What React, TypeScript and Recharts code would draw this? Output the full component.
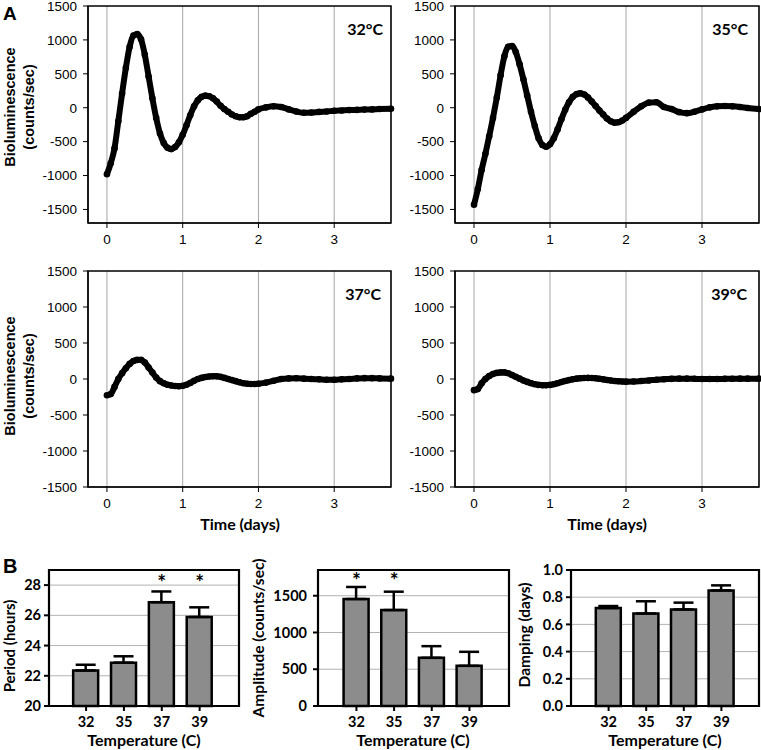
import React from "react"
import {
  LineChart,
  Line,
  BarChart,
  Bar,
  ErrorBar,
  XAxis,
  YAxis,
  CartesianGrid,
  ReferenceArea,
  ReferenceDot,
} from "recharts"

const ARIAL = '"Liberation Sans", Arial, sans-serif'
const CALIBRI = 'Lato, "Noto Sans", sans-serif'

// time in days
const times = [
  0, 0.05, 0.1, 0.15, 0.2, 0.25, 0.3, 0.35, 0.4, 0.45, 0.5, 0.55, 0.6, 0.65, 0.7, 0.75, 0.8, 0.85, 0.9, 0.95,
  1, 1.05, 1.1, 1.15, 1.2, 1.25, 1.3, 1.35, 1.4, 1.45, 1.5, 1.55, 1.6, 1.65, 1.7, 1.75, 1.8, 1.85, 1.9, 1.95, 2,
  2.1, 2.2, 2.3, 2.4, 2.5, 2.6, 2.7, 2.8, 2.9, 3, 3.1, 3.2, 3.3, 3.4, 3.5, 3.6, 3.75,
]

// detrended bioluminescence (counts/sec)
const lum32 = [
  -980, -820, -600, -200, 210, 590, 900, 1065, 1085, 1010, 780, 460, 140, -150, -380, -520, -590, -610, -580, -510,
  -400, -260, -110, 20, 110, 160, 178, 170, 140, 90, 30, -20, -60, -100, -125, -140, -140, -125, -90, -60, -25,
  5, 20, 10, -25, -55, -75, -72, -62, -55, -45, -40, -35, -32, -28, -25, -20, -15,
]
const lum35 = [
  -1430, -1200, -920, -680, -420, -150, 150, 480, 760, 900, 910, 820, 640, 420, 180, -60, -270, -450, -550, -575,
  -540, -450, -320, -170, -30, 80, 160, 200, 212, 195, 150, 90, 25, -40, -100, -160, -200, -220, -215, -190, -150,
  -60, 20, 75, 80, 10, -20, -65, -80, -60, -25, 5, 20, 25, 20, 10, -5, -20,
]
const lum37 = [
  -225, -210, -110, 0, 80, 150, 210, 250, 265, 265, 230, 160, 90, 20, -30, -60, -80, -90, -98, -100,
  -95, -80, -55, -25, 0, 15, 28, 35, 38, 37, 30, 15, 0, -15, -30, -45, -58, -65, -70, -70, -65,
  -50, -25, 0, 8, 10, 5, 0, -5, -10, -10, -5, 0, 8, 12, 12, 8, 5,
]
const lum39 = [
  -155, -140, -60, 0, 40, 70, 85, 92, 92, 80, 55, 30, 5, -20, -40, -58, -72, -82, -87, -87,
  -82, -72, -58, -42, -28, -15, -3, 5, 10, 14, 15, 14, 10, 3, -5, -13, -20, -27, -32, -35, -37,
  -35, -28, -20, -10, -3, 2, 5, 5, 3, 0, 0, 0, 2, 3, 5, 5, 5,
]

const lumTicks = [-1500, -1000, -500, 0, 500, 1000, 1500]
const dayTicks = [0, 1, 2, 3]

const temps = ["32", "35", "37", "39"]
const period = [22.35, 22.87, 26.87, 25.89]
const periodErr = [0.38, 0.42, 0.71, 0.64]
const amplitude = [1455, 1305, 655, 546]
const amplitudeErr = [164, 250, 159, 191]
const damping = [0.72, 0.68, 0.71, 0.85]
const dampingErr = [0.015, 0.09, 0.05, 0.037]
const periodStars = ["37", "39"]
const amplitudeStars = ["32", "35"]

const periodTicks = [20, 22, 24, 26, 28]
const amplitudeTicks = [0, 500, 1000, 1500]
const dampingTicks = [0, 0.2, 0.4, 0.6, 0.8, 1.0]

const traceData = times.map((t, i) => ({
  t,
  v32: lum32[i],
  v35: lum35[i],
  v37: lum37[i],
  v39: lum39[i],
}))

// bars sit on a numeric slot axis (0..3) so the frame can span the whole plot
const barData = temps.map((temp, i) => ({
  slot: i,
  temp,
  period: period[i],
  periodErr: [0, periodErr[i]],
  amplitude: amplitude[i],
  amplitudeErr: [0, amplitudeErr[i]],
  damping: damping[i],
  dampingErr: [0, dampingErr[i]],
}))

interface TraceProps {
  dataKey: string
  left: number
  top: number
  width: number
  right: number
  yMin: number
  xAxisHeight: number
}

function TracePanel({ dataKey, left, top, width, right, yMin, xAxisHeight }: TraceProps) {
  const tick = { fill: "#000", fontSize: 13.5, fontFamily: ARIAL }
  return (
    <div style={{ position: "absolute", left, top }}>
      <LineChart width={width} height={250} data={traceData} margin={{ top: 6, right, left: 0, bottom: 0 }}>
        <CartesianGrid horizontal={false} stroke="#a6a6a6" />
        <XAxis
          type="number"
          dataKey="t"
          domain={[-0.25, 3.75]}
          ticks={dayTicks}
          interval={0}
          tick={tick}
          tickSize={5}
          tickMargin={6}
          stroke="#000"
          height={xAxisHeight}
        />
        <YAxis
          domain={[yMin, 1500]}
          ticks={lumTicks}
          interval={0}
          tick={tick}
          tickSize={5}
          tickMargin={6}
          stroke="#000"
          width={88}
        />
        <ReferenceArea y1={yMin} y2={1500} fill="none" stroke="#000" strokeWidth={1.5} />
        <Line
          type="monotone"
          dataKey={dataKey}
          stroke="#000"
          strokeWidth={6}
          dot={{ r: 3.3, fill: "#000", stroke: "none" }}
          isAnimationActive={false}
        />
      </LineChart>
    </div>
  )
}

interface BarProps {
  left: number
  width: number
  right: number
  yWidth: number
  xDomain: [number, number]
  dataKey: string
  errKey: string
  domain: [number, number]
  ticks: number[]
  fmt?: (v: number) => string
  stars: string[]
  starY: number
  yTickMargin: number
}

function BarPanel(p: BarProps) {
  const tick = { fill: "#000", fontSize: 14.5, fontWeight: 700, fontFamily: CALIBRI }
  return (
    <div style={{ position: "absolute", left: p.left, top: 560 }}>
      <BarChart width={p.width} height={190} data={barData} margin={{ top: 10, right: p.right, left: 0, bottom: 0 }}>
        <CartesianGrid vertical={false} stroke="#b3b3b3" />
        <XAxis
          type="number"
          dataKey="slot"
          domain={p.xDomain}
          ticks={[0, 1, 2, 3]}
          interval={0}
          tickFormatter={(v: number) => temps[v] ?? ""}
          tick={tick}
          tickSize={5}
          tickMargin={6}
          stroke="#000"
          strokeWidth={2}
          height={44}
        />
        <YAxis
          domain={p.domain}
          ticks={p.ticks}
          interval={0}
          tickFormatter={p.fmt}
          tick={tick}
          tickSize={5}
          tickMargin={p.yTickMargin}
          stroke="#000"
          strokeWidth={2}
          width={p.yWidth}
        />
        <ReferenceArea y1={p.domain[0]} y2={p.domain[1]} fill="none" stroke="#000" strokeWidth={2.2} />
        <Bar dataKey={p.dataKey} fill="#8c8c8c" stroke="#000" strokeWidth={2.5} barSize={25} isAnimationActive={false}>
          <ErrorBar dataKey={p.errKey} width={10} stroke="#000" strokeWidth={2.5} />
        </Bar>
        {p.stars.map((s) => (
          <ReferenceDot
            key={s}
            x={temps.indexOf(s)}
            y={p.starY}
            r={1}
            fill="none"
            stroke="none"
            label={{ value: "*", position: "center", fill: "#000", fontSize: 21, fontWeight: 700, fontFamily: CALIBRI }}
          />
        ))}
      </BarChart>
    </div>
  )
}

function Rotated({ x, y, text, size, family }: { x: number; y: number; text: string; size: number; family: string }) {
  return (
    <text
      transform={`translate(${x},${y}) rotate(-90)`}
      textAnchor="middle"
      fontSize={size}
      fontWeight={700}
      fontFamily={family}
      fill="#000"
    >
      {text}
    </text>
  )
}

export default function App() {
  const bold = { fontWeight: 700, fill: "#000" }
  return (
    <div style={{ position: "absolute", left: 0, top: 0, width: 761, height: 750, background: "#fff" }}>
      <TracePanel dataKey="v32" left={0} top={0} width={400} right={9} yMin={-1700} xAxisHeight={27} />
      <TracePanel dataKey="v35" left={367} top={0} width={394} right={2} yMin={-1700} xAxisHeight={27} />
      <TracePanel dataKey="v37" left={0} top={265} width={400} right={9} yMin={-1500} xAxisHeight={28} />
      <TracePanel dataKey="v39" left={367} top={265} width={394} right={2} yMin={-1500} xAxisHeight={28} />

      <BarPanel
        left={0} width={250} right={11} yWidth={49} xDomain={[-0.98, 4.04]}
        dataKey="period" errKey="periodErr" domain={[20, 29]} ticks={periodTicks}
        stars={periodStars} starY={28.2} yTickMargin={3}
      />
      <BarPanel
        left={269} width={250} right={10} yWidth={49} xDomain={[-1.02, 4.05]}
        dataKey="amplitude" errKey="amplitudeErr" domain={[0, 1850]} ticks={amplitudeTicks}
        stars={amplitudeStars} starY={1705} yTickMargin={6}
      />
      <BarPanel
        left={511} width={250} right={2} yWidth={60} xDomain={[-1, 4]}
        dataKey="damping" errKey="dampingErr" domain={[0, 1]} ticks={dampingTicks}
        fmt={(v) => v.toFixed(1)} stars={[]} starY={0} yTickMargin={3}
      />

      <svg
        width={761}
        height={750}
        style={{ position: "absolute", left: 0, top: 0, pointerEvents: "none" }}
      >
        <text x={3} y={20} fontSize={19} fontFamily={ARIAL} {...bold}>A</text>
        <text x={3} y={573} fontSize={20} fontFamily={ARIAL} {...bold}>B</text>

        <text x={383} y={35} textAnchor="end" fontSize={16} fontFamily={CALIBRI} {...bold}>32°C</text>
        <text x={748} y={35} textAnchor="end" fontSize={16} fontFamily={CALIBRI} {...bold}>35°C</text>
        <text x={381} y={300} textAnchor="end" fontSize={16} fontFamily={CALIBRI} {...bold}>37°C</text>
        <text x={747} y={300} textAnchor="end" fontSize={16} fontFamily={CALIBRI} {...bold}>39°C</text>

        <Rotated x={15} y={107} text="Bioluminescence" size={14.5} family={ARIAL} />
        <Rotated x={34} y={107} text="(counts/sec)" size={14.5} family={ARIAL} />
        <Rotated x={15} y={376} text="Bioluminescence" size={14.5} family={ARIAL} />
        <Rotated x={34} y={376} text="(counts/sec)" size={14.5} family={ARIAL} />

        <text x={240} y={530} textAnchor="middle" fontSize={16} fontFamily={CALIBRI} {...bold}>Time (days)</text>
        <text x={607} y={530} textAnchor="middle" fontSize={16} fontFamily={CALIBRI} {...bold}>Time (days)</text>

        <Rotated x={15} y={646} text="Period (hours)" size={15} family={CALIBRI} />
        <Rotated x={264} y={638} text="Amplitude (counts/sec)" size={15.5} family={CALIBRI} />
        <Rotated x={530} y={635} text="Damping (days)" size={15.5} family={CALIBRI} />

        <text x={144} y={746} textAnchor="middle" fontSize={16} fontFamily={CALIBRI} {...bold}>Temperature (C)</text>
        <text x={413} y={746} textAnchor="middle" fontSize={16} fontFamily={CALIBRI} {...bold}>Temperature (C)</text>
        <text x={665} y={746} textAnchor="middle" fontSize={16} fontFamily={CALIBRI} {...bold}>Temperature (C)</text>
      </svg>
    </div>
  )
}
